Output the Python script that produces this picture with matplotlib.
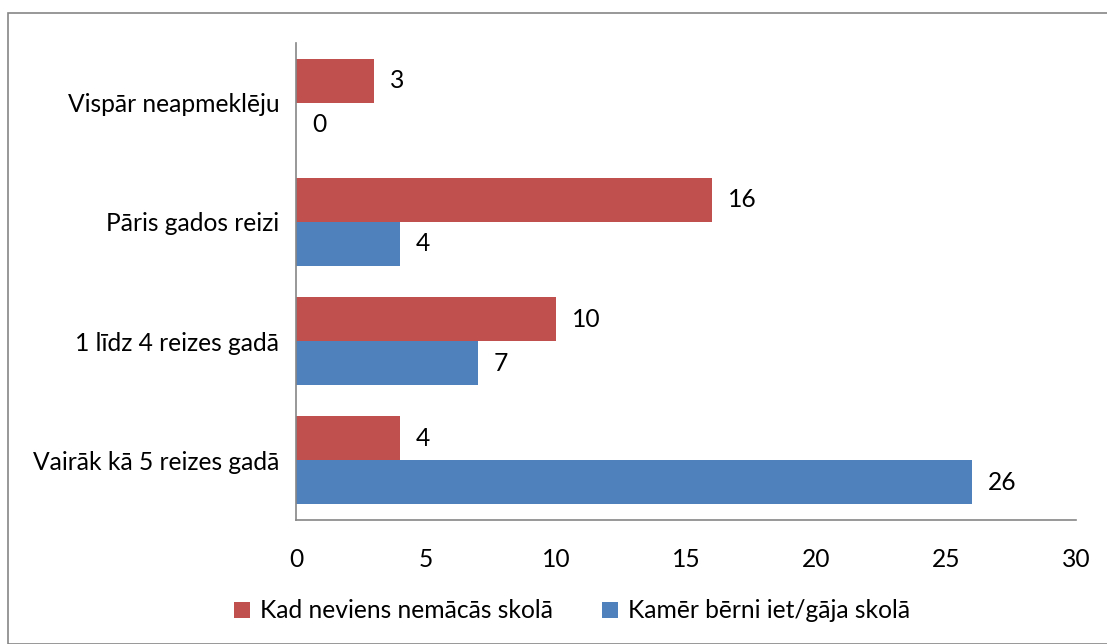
import matplotlib.pyplot as plt
from matplotlib.patches import Rectangle
import numpy as np

plt.rcParams['font.family'] = ['Lato', 'DejaVu Sans']

kategorijas = ['Vairāk kā 5 reizes gadā', '1 līdz 4 reizes gadā',
               'Pāris gados reizi', 'Vispār neapmeklēju']
nemacas = [4, 10, 16, 3]
skola = [26, 7, 4, 0]
serijas = ['Kad neviens nemācās skolā', 'Kamēr bērni iet/gāja skolā']

sarkans = '#C0504D'
zils = '#4F81BD'
fs = 17.7

fig = plt.figure(figsize=(11.07, 6.44), dpi=100)
ax = fig.add_axes([296/1107, 1 - 520/644, 780/1107, 477/644])

# rāmis ap visu attēlu
fig.patches.append(Rectangle((8/1107, 0), 1.2, 1 - 13/644, transform=fig.transFigure,
                             fill=False, edgecolor='#868686', linewidth=1.2))

y = np.arange(len(kategorijas))
h = 0.369
b1 = ax.barh(y + h/2, nemacas, h, color=sarkans, label=serijas[0])
b2 = ax.barh(y - h/2, skola, h, color=zils, label=serijas[1])

for bars, vals in [(b1, nemacas), (b2, skola)]:
    for bar, v in zip(bars, vals):
        ax.annotate(str(v), (v, bar.get_y() + bar.get_height()/2),
                    xytext=(16, 0), textcoords='offset pixels',
                    ha='left', va='center', fontsize=fs)

ax.set_xlim(0, 30)
ax.set_ylim(-0.5, 3.5)
ax.set_xticks(range(0, 31, 5))
ax.set_yticks(y)
ax.set_yticklabels(kategorijas)
ax.tick_params(length=0, labelsize=fs, pad=12)
ax.tick_params(axis='x', pad=20)
for s in ['top', 'right']:
    ax.spines[s].set_visible(False)
for s in ['left', 'bottom']:
    ax.spines[s].set_color('#868686')
    ax.spines[s].set_linewidth(1.2)

fig.legend(loc='center', bbox_to_anchor=(572/1107, 1 - 611/644), ncol=2, frameon=False,
           fontsize=fs, handlelength=0.65, handleheight=0.65, handletextpad=0.4,
           columnspacing=2.0)

plt.savefig('out.png')
